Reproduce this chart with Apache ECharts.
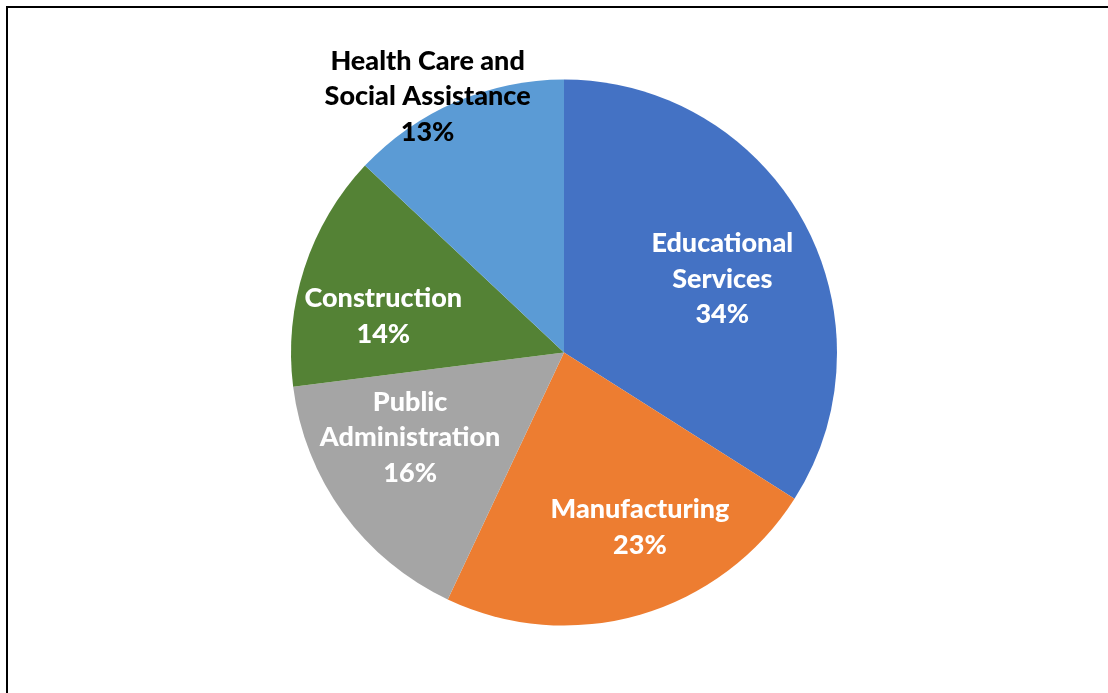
<!DOCTYPE html>
<html>
<head>
<meta charset="utf-8">
<script src="https://cdn.jsdelivr.net/npm/echarts@6/dist/echarts.min.js"></script>
<style>
  html, body { margin: 0; padding: 0; background: #fff; }
  #chart { width: 1108px; height: 693px; }
</style>
</head>
<body>
<div id="chart"></div>
<script>
// ---- data ----
const categories = [
  'Educational\nServices',
  'Manufacturing',
  'Public\nAdministration',
  'Construction',
  'Health Care and\nSocial Assistance'
];
const shares = [34, 23, 16, 14, 13];

// ---- styles ----
const sliceColors = ['#4472C4', '#ED7D31', '#A5A5A5', '#548235', '#5B9BD5'];
const labelColors = ['#ffffff', '#ffffff', '#ffffff', '#ffffff', '#000000'];
// label nudges from ECharts' default inside position [dx, dy]
const labelNudges = [[36, -6], [37, 41], [-41, 3], [-48, 7], [-81, -128]];

const chart = echarts.init(document.getElementById('chart'), null, { renderer: 'canvas' });

const option = {
  animation: false,
  graphic: [{
    type: 'rect',
    shape: { x: 7, y: 7, width: 1200, height: 800 },
    style: { fill: 'none', stroke: '#000', lineWidth: 2 },
    silent: true
  }],
  series: [{
    type: 'pie',
    center: [564, 352.5],
    radius: [0, 273],
    startAngle: 90,
    clockwise: true,
    avoidLabelOverlap: false,
    itemStyle: { borderWidth: 0 },
    label: {
      show: true,
      position: 'inside',
      formatter: '{b}\n{c}%',
      fontFamily: 'Lato',
      fontWeight: 900,
      fontSize: 27,
      lineHeight: 35.5,
      align: 'center'
    },
    labelLine: { show: false },
    labelLayout: function (params) {
      const n = labelNudges[params.dataIndex];
      return { dx: n[0], dy: n[1] };
    },
    emphasis: { disabled: true },
    data: categories.map((name, i) => ({
      name: name,
      value: shares[i],
      itemStyle: { color: sliceColors[i] },
      label: { color: labelColors[i] }
    }))
  }]
};

chart.setOption(option);
</script>
</body>
</html>
